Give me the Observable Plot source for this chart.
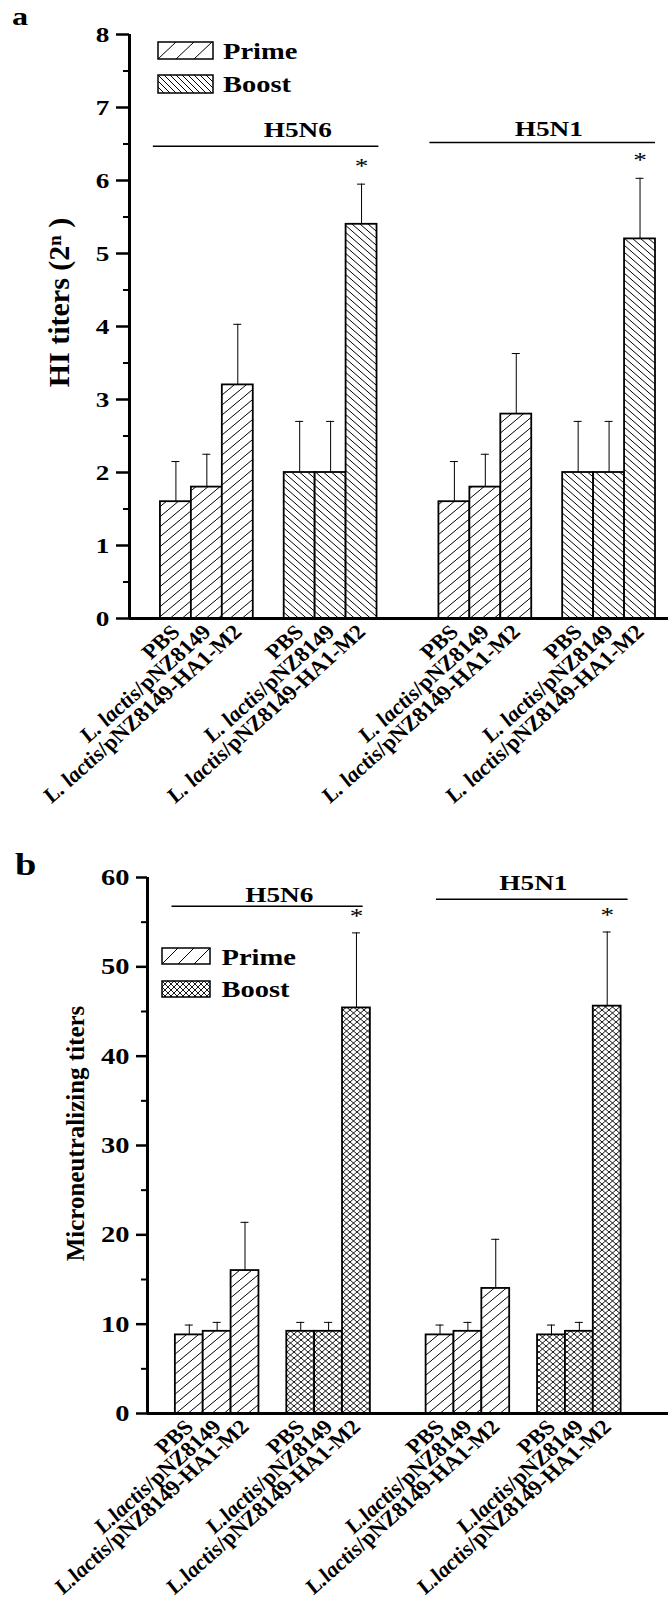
<!DOCTYPE html>
<html>
<head>
<meta charset="utf-8">
<script src="https://cdn.jsdelivr.net/npm/d3@7"></script>
<script src="https://cdn.jsdelivr.net/npm/@observablehq/plot@0.6"></script>
<style>
  body { margin: 0; background: #fff; }
  #wrap { position: relative; width: 668px; height: 1599px; background: #fff; overflow: hidden; }
  #wrap > div { position: absolute; left: 0; }
</style>
</head>
<body>
<svg width="0" height="0" style="position:absolute">
  <defs id="defs"></defs>
</svg>
<div id="wrap"><div id="chartA" style="top:0"></div><div id="chartB" style="top:800px"></div></div>
<script>
// ---------------- data ----------------
const subtypes = ["H5N6", "H5N1"];
const phases = ["Prime", "Boost"];
const groupsA = ["PBS", "L. lactis/pNZ8149", "L. lactis/pNZ8149-HA1-M2"];
const groupsB = ["PBS", "L.lactis/pNZ8149", "L.lactis/pNZ8149-HA1-M2"];
// order of values: H5N6 Prime (3), H5N6 Boost (3), H5N1 Prime (3), H5N1 Boost (3)
const hiMean = [1.6, 1.8, 3.2, 2.0, 2.0, 5.4, 1.6, 1.8, 2.8, 2.0, 2.0, 5.2];
const hiSD   = [0.55, 0.45, 0.83, 0.7, 0.7, 0.55, 0.55, 0.45, 0.83, 0.7, 0.7, 0.83];
const hiSig  = [0, 0, 0, 0, 0, 1, 0, 0, 0, 0, 0, 1];
const mnMean = [8.8, 9.2, 16.0, 9.2, 9.2, 45.4, 8.8, 9.2, 14.0, 8.8, 9.2, 45.6];
const mnSD   = [1.1, 1.0, 5.4, 1.0, 1.0, 8.4, 1.1, 1.0, 5.5, 1.1, 1.0, 8.3];
const mnSig  = [0, 0, 0, 0, 0, 1, 0, 0, 0, 0, 0, 1];
const yTicksA = [0, 1, 2, 3, 4, 5, 6, 7, 8];
const yMinorA = [0.5, 1.5, 2.5, 3.5, 4.5, 5.5, 6.5, 7.5];
const yTicksB = [0, 10, 20, 30, 40, 50, 60];
const yMinorB = [5, 15, 25, 35, 45, 55];

// ---------------- layout ----------------
const FONT = "'Liberation Serif', 'Times New Roman', serif";
const groupOffset = [0, 4, 9, 13]; // bar slots of the four groups
const STRETCH = 1.24;      // horizontal texts are drawn wide in the reference
const STRETCH_ROT = 1.12;  // slanted tick labels

function buildRows(mean, sd, sig, labels) {
  return mean.map((m, i) => {
    const g = Math.floor(i / 3), j = i % 3;
    return {
      subtype: subtypes[Math.floor(g / 2)], phase: phases[g % 2], label: labels[j],
      slot: groupOffset[g] + j, mean: m, hi: m + sd[i], sig: sig[i] === 1
    };
  });
}

// ---------------- patterns ----------------
const ns = "http://www.w3.org/2000/svg";
function addPattern(id, w, h, kind, sw = 1, ox = 0, oy = 0) {
  const p = document.createElementNS(ns, "pattern");
  p.setAttribute("id", id);
  p.setAttribute("patternUnits", "userSpaceOnUse");
  p.setAttribute("width", w); p.setAttribute("height", h);
  p.setAttribute("x", ox); p.setAttribute("y", oy);
  const bg = document.createElementNS(ns, "rect");
  bg.setAttribute("width", w); bg.setAttribute("height", h); bg.setAttribute("fill", "white");
  p.append(bg);
  let d = "";
  if (kind === "fwd" || kind === "cross") d += `M0,${h}L${w},0M${-w},${h}L0,0M${w},${2*h}L${2*w},${h}M${w},${h}L${2*w},0M${-w},${2*h}L0,${h}`;
  if (kind === "back" || kind === "cross") d += `M0,0L${w},${h}M${-w},0L0,${h}M${w},0L${2*w},${h}M0,${-h}L${w},0M0,${h}L${w},${2*h}`;
  const path = document.createElementNS(ns, "path");
  path.setAttribute("d", d); path.setAttribute("stroke", "black");
  path.setAttribute("stroke-width", sw); path.setAttribute("fill", "none");
  p.append(path);
  document.getElementById("defs").append(p);
}
addPattern("a-prime", 12, 10, "fwd", 1);
addPattern("a-boost", 8, 7, "back", 1);
addPattern("a-lprime", 18, 17, "fwd", 1, 158, 42);
addPattern("a-lboost", 6, 6, "back", 1, 158, 75);
addPattern("b-prime", 12, 10, "fwd", 1);
addPattern("b-boost", 7, 6, "cross", 0.9);
addPattern("b-lprime", 16, 16, "fwd", 1, 162, 148);
addPattern("b-lboost", 6, 6, "cross", 0.9, 162, 181);

// ---------------- chart ----------------
function chart(cfg) {
  const rows = cfg.rows;
  const W = 668;
  const slotPx = (W - cfg.marginLeft) / (cfg.xDomain[1] - cfg.xDomain[0]);
  const cap = 4 / slotPx;
  const plot = Plot.plot({
    width: W, height: cfg.height,
    marginTop: cfg.marginTop, marginBottom: cfg.marginBottom, marginLeft: cfg.marginLeft, marginRight: 0,
    x: {type: "linear", domain: cfg.xDomain, axis: null},
    y: {domain: cfg.yDomain},
    style: {fontFamily: FONT, background: "none", color: "black", overflow: "visible"},
    marks: [
      Plot.rectY(rows.filter(d => d.phase === "Prime"), {x1: "slot", x2: d => d.slot + 1, y1: 0, y2: "mean", fill: `url(#${cfg.id}-prime)`, stroke: "black", strokeWidth: 1.8}),
      Plot.rectY(rows.filter(d => d.phase === "Boost"), {x1: "slot", x2: d => d.slot + 1, y1: 0, y2: "mean", fill: `url(#${cfg.id}-boost)`, stroke: "black", strokeWidth: 1.8}),
      Plot.ruleX(rows, {x: d => d.slot + 0.5, y1: "mean", y2: "hi", strokeWidth: 1}),
      Plot.ruleY(rows, {y: "hi", x1: d => d.slot + 0.5 - cap, x2: d => d.slot + 0.5 + cap, strokeWidth: 1}),
      Plot.text(rows.filter(d => d.sig), {x: d => d.slot + 0.5, y: "hi", text: () => "*", dy: cfg.starDy, fontSize: 22, lineAnchor: "middle"}),
      Plot.ruleY(cfg.headers, {y: "y", x1: "x1", x2: "x2", strokeWidth: 1.5}),
      Plot.text(cfg.headers, {x: "tx", y: "ty", text: "label", fontSize: 22, fontWeight: "bold", lineAnchor: "bottom"}),
      Plot.ruleY([0], {strokeWidth: 3}),
      Plot.ruleX([cfg.xDomain[0]], {y1: cfg.yDomain[0], y2: cfg.yDomain[1], strokeWidth: 3}),
      Plot.axisY({ticks: cfg.yTicks, tickSize: cfg.tickSize, tickPadding: 7, fontSize: cfg.tickFont, fontWeight: "bold", strokeWidth: 2.5, label: null}),
      Plot.axisY({ticks: cfg.yMinor, tickSize: 6, tickFormat: () => "", strokeWidth: 2, label: null}),
      Plot.text(rows, {x: d => d.slot + 0.5, y: 0, text: "label", rotate: -45, textAnchor: "end", lineAnchor: "middle", dx: 0, dy: 10, fontSize: 20.8, fontWeight: "bold"}),
      Plot.text([cfg.ylabel], {frameAnchor: "left", textAnchor: "middle", rotate: -90, dx: cfg.ylabelDx, dy: cfg.ylabelDy, fontSize: cfg.ylabelFont, fontWeight: "bold", lineAnchor: "middle"})
    ]
  });

  // italic species names
  plot.querySelectorAll("text").forEach(t => {
    const m = /^(L\. ?lactis)(\/.*)$/.exec(t.textContent);
    if (!m) return;
    t.textContent = "";
    const a = document.createElementNS(ns, "tspan"); a.setAttribute("font-style", "italic"); a.textContent = m[1];
    const b = document.createElementNS(ns, "tspan"); b.textContent = m[2];
    t.append(a, b);
  });

  // legend and panel letter
  const g = d3.select(plot).append("g").attr("font-family", FONT).attr("font-weight", "bold").attr("text-anchor", "start");
  cfg.legend.forEach(l => {
    g.append("rect").attr("x", l.bx).attr("y", l.by).attr("width", l.bw).attr("height", l.bh)
      .attr("fill", `url(#${cfg.id}-l${l.key})`).attr("stroke", "black").attr("stroke-width", 1.5);
    g.append("text").attr("transform", `translate(${l.tx},${l.ty})`).attr("font-size", l.fs).text(l.label);
  });
  g.append("text").attr("transform", `translate(${cfg.letter.x},${cfg.letter.y})`).attr("font-size", cfg.letter.fs).text(cfg.letter.text);

  // wide lettering of the reference
  plot.querySelectorAll("text").forEach(t => {
    const tr = t.getAttribute("transform") || "";
    if (tr.includes("rotate(-45)")) t.setAttribute("transform", tr.replace("rotate(-45)", `scale(${STRETCH_ROT},1) rotate(-45)`));
    else if (!tr.includes("rotate")) t.setAttribute("transform", tr + ` scale(${STRETCH},1)`);
  });
  return plot;
}

const rowsA = buildRows(hiMean, hiSD, hiSig, groupsA);
const rowsB = buildRows(mnMean, mnSD, mnSig, groupsB);

document.getElementById("chartA").append(chart({
  id: "a", rows: rowsA, height: 800, marginTop: 34, marginBottom: 182, marginLeft: 129,
  xDomain: [-1, 16.42], yDomain: [0, 8], yTicks: yTicksA, yMinor: yMinorA, tickSize: 13, tickFont: 22,
  ylabel: "HI titers (2ⁿ )", ylabelDx: -70, ylabelDy: -24, ylabelFont: 30, starDy: -18,
  headers: [
    {label: "H5N6", x1: -0.23, x2: 7.06, y: 6.47, tx: 4.44, ty: 6.59},
    {label: "H5N1", x1: 8.71, x2: 16.0, y: 6.52, tx: 12.55, ty: 6.61}
  ],
  legend: [
    {key: "prime", label: "Prime", bx: 158, by: 42, bw: 55, bh: 17, tx: 223, ty: 58.5, fs: 23},
    {key: "boost", label: "Boost", bx: 158, by: 75, bw: 55, bh: 18, tx: 223, ty: 92, fs: 23}
  ],
  letter: {text: "a", x: 12, y: 25, fs: 26}
}));

document.getElementById("chartB").append(chart({
  id: "b", rows: rowsB, height: 799, marginTop: 77, marginBottom: 186, marginLeft: 147,
  xDomain: [-1, 17.7], yDomain: [0, 60], yTicks: yTicksB, yMinor: yMinorB, tickSize: 11, tickFont: 23,
  ylabel: "Microneutralizing titers", ylabelDx: -72, ylabelDy: -12, ylabelFont: 25, starDy: -17,
  headers: [
    {label: "H5N6", x1: -0.12, x2: 6.74, y: 56.79, tx: 3.73, ty: 57.3},
    {label: "H5N1", x1: 9.37, x2: 16.25, y: 57.57, tx: 12.85, ty: 58.55}
  ],
  legend: [
    {key: "prime", label: "Prime", bx: 162, by: 148, bw: 48, bh: 16, tx: 221.5, ty: 165, fs: 23},
    {key: "boost", label: "Boost", bx: 162, by: 181, bw: 48, bh: 16, tx: 221.5, ty: 197, fs: 23}
  ],
  letter: {text: "b", x: 15, y: 75, fs: 31}
}));
</script>
</body>
</html>
